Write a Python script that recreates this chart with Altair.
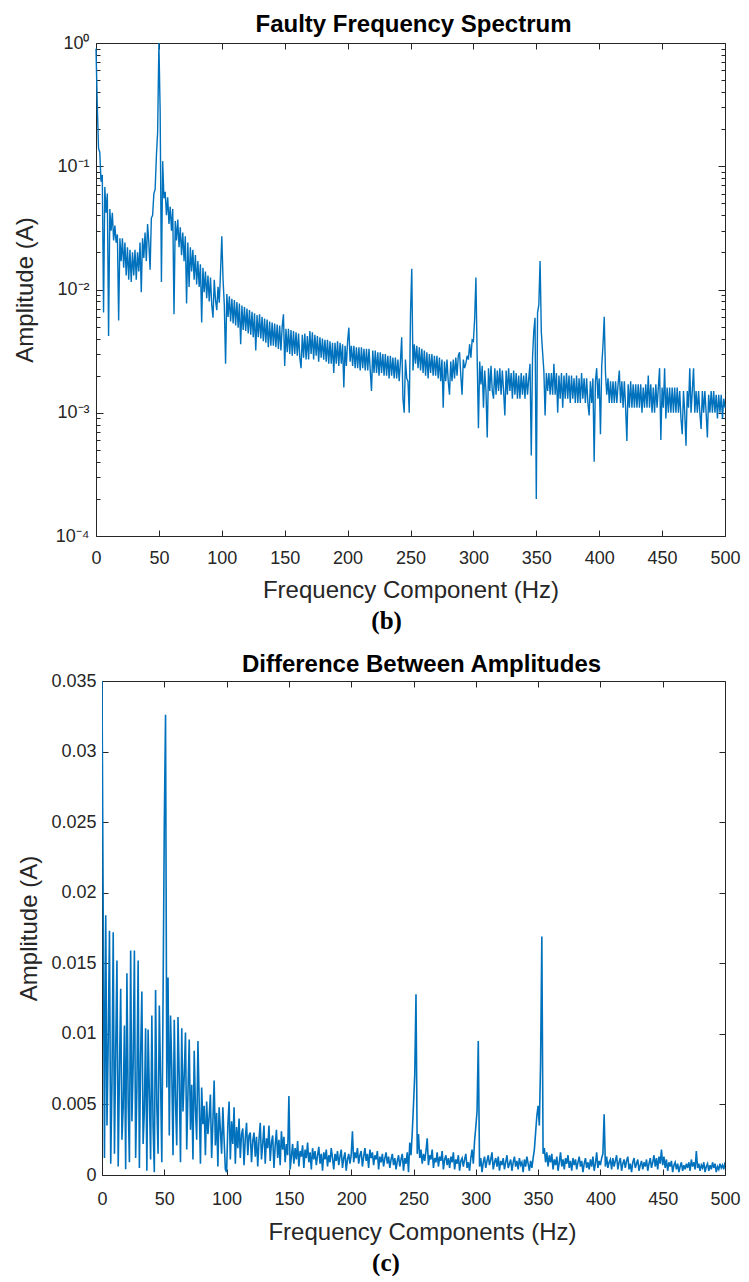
import altair as alt
import pandas as pd

# ---------------- data (1 Hz grid) ----------------
fault_amp = [
    0.9, 0.32, 0.14, 0.13, 0.075, 0.085, 0.0065, 0.068, 0.042, 0.06,
    0.0042, 0.045, 0.03, 0.042, 0.025, 0.033, 0.024, 0.028, 0.0056, 0.026,
    0.017, 0.026, 0.015, 0.024, 0.013, 0.022, 0.012, 0.021, 0.0115, 0.02,
    0.013, 0.021, 0.012, 0.02, 0.014, 0.024, 0.0095, 0.026, 0.018, 0.029,
    0.017, 0.034, 0.024, 0.0145, 0.038, 0.04, 0.06, 0.065, 0.12, 0.19,
    1.0, 0.28, 0.0115, 0.11, 0.055, 0.062, 0.04, 0.056, 0.034, 0.047,
    0.03, 0.045, 0.0063, 0.036, 0.025, 0.037, 0.022, 0.032, 0.019, 0.029,
    0.017, 0.027, 0.0077, 0.024, 0.0105, 0.022, 0.014, 0.021, 0.012, 0.019,
    0.011, 0.017, 0.0105, 0.016, 0.0054, 0.015, 0.0095, 0.014, 0.0085, 0.013,
    0.008, 0.0125, 0.0075, 0.0059, 0.012, 0.0082, 0.0068, 0.0105, 0.0078, 0.014,
    0.027, 0.012, 0.0075, 0.0025, 0.0092, 0.006, 0.0088, 0.0055, 0.0084, 0.0053,
    0.0082, 0.0051, 0.0079, 0.0049, 0.0077, 0.0036, 0.0074, 0.0047, 0.0072, 0.0046,
    0.007, 0.0044, 0.0068, 0.0043, 0.0066, 0.0041, 0.0064, 0.0032, 0.0062, 0.0041,
    0.0063, 0.004, 0.006, 0.0038, 0.0058, 0.0037, 0.0057, 0.0034, 0.0055, 0.0035,
    0.0054, 0.0035, 0.0053, 0.0034, 0.0052, 0.0033, 0.0051, 0.0032, 0.005, 0.0063,
    0.0024, 0.0048, 0.0031, 0.0048, 0.003, 0.0047, 0.0029, 0.0046, 0.003, 0.0045,
    0.0029, 0.0044, 0.0028, 0.0023, 0.0043, 0.0028, 0.0044, 0.0027, 0.0042, 0.0027,
    0.0046, 0.003, 0.0045, 0.0027, 0.0043, 0.0029, 0.0042, 0.0026, 0.0041, 0.0028,
    0.004, 0.0027, 0.0039, 0.0026, 0.0039, 0.0025, 0.0038, 0.0025, 0.0037, 0.0021,
    0.0037, 0.0025, 0.0038, 0.0024, 0.0037, 0.0025, 0.0036, 0.0016, 0.0035, 0.0024,
    0.0038, 0.0049, 0.0026, 0.0035, 0.0024, 0.0035, 0.0023, 0.0034, 0.0023, 0.0034,
    0.0022, 0.0034, 0.0023, 0.0033, 0.0022, 0.0033, 0.0022, 0.0033, 0.0022, 0.0015,
    0.0032, 0.0021, 0.0032, 0.0021, 0.0031, 0.002, 0.0031, 0.0021, 0.003, 0.002,
    0.003, 0.002, 0.0029, 0.0019, 0.0029, 0.002, 0.0028, 0.0019, 0.0028, 0.0019,
    0.0027, 0.0018, 0.0026, 0.0041, 0.0013, 0.001, 0.0027, 0.0019, 0.0018, 0.001,
    0.0063, 0.0147, 0.0022, 0.0036, 0.0025, 0.0035, 0.0023, 0.0034, 0.0022, 0.0033,
    0.0021, 0.0032, 0.002, 0.0031, 0.0019, 0.003, 0.0021, 0.003, 0.002, 0.0029,
    0.002, 0.0029, 0.0019, 0.0028, 0.0018, 0.0027, 0.0011, 0.0026, 0.0018, 0.0027,
    0.0018, 0.0014, 0.0026, 0.0018, 0.0027, 0.0019, 0.0028, 0.002, 0.0029, 0.0031,
    0.002, 0.0014, 0.0027, 0.0023, 0.0025, 0.0029, 0.0027, 0.0036, 0.0028, 0.0039,
    0.0038, 0.0058, 0.0125, 0.0028, 0.00075, 0.0026, 0.0017, 0.0024, 0.0011, 0.0022,
    0.0015, 0.00063, 0.0023, 0.0015, 0.0024, 0.0015, 0.0013, 0.0023, 0.0014, 0.0022,
    0.0015, 0.0023, 0.0014, 0.0022, 0.0015, 0.00095, 0.0022, 0.0014, 0.0023, 0.0015,
    0.0021, 0.0013, 0.0022, 0.0014, 0.0021, 0.0013, 0.002, 0.0013, 0.0021, 0.0014,
    0.002, 0.0013, 0.0021, 0.0014, 0.0019, 0.0025, 0.00045, 0.0028, 0.0046, 0.0059,
    0.0002, 0.0065, 0.0075, 0.017, 0.0045, 0.0031, 0.0022, 0.00095, 0.0021, 0.0015,
    0.0021, 0.0014, 0.0021, 0.0014, 0.0025, 0.0014, 0.0021, 0.001, 0.002, 0.0013,
    0.0021, 0.0011, 0.002, 0.0013, 0.0021, 0.0013, 0.002, 0.0012, 0.002, 0.0013,
    0.0019, 0.0012, 0.002, 0.0012, 0.0019, 0.0012, 0.0021, 0.0013, 0.0019, 0.0012,
    0.0019, 0.0012, 0.00095, 0.0018, 0.0012, 0.0019, 0.0004, 0.0018, 0.0023, 0.0013,
    0.0019, 0.00067, 0.0024, 0.0035, 0.006, 0.0021, 0.0014, 0.0019, 0.0012, 0.0018,
    0.0012, 0.0018, 0.0012, 0.0018, 0.0012, 0.0017, 0.0022, 0.0012, 0.0018, 0.0011,
    0.0018, 0.0011, 0.00059, 0.0017, 0.0011, 0.0018, 0.0011, 0.0017, 0.0011, 0.0017,
    0.0011, 0.0017, 0.0011, 0.0017, 0.001, 0.0016, 0.0011, 0.0017, 0.0011, 0.002,
    0.0011, 0.0017, 0.001, 0.0016, 0.001, 0.0017, 0.0011, 0.0016, 0.0023, 0.0006,
    0.0016, 0.0011, 0.0023, 0.0009, 0.0016, 0.001, 0.0016, 0.001, 0.0016, 0.001,
    0.0016, 0.001, 0.0016, 0.001, 0.0015, 0.0009, 0.00067, 0.0015, 0.001, 0.00054,
    0.0015, 0.0011, 0.0023, 0.001, 0.0015, 0.0023, 0.001, 0.0015, 0.001, 0.0015,
    0.001, 0.00074, 0.0015, 0.001, 0.0015, 0.001, 0.00063, 0.0014, 0.001, 0.0015,
    0.001, 0.0015, 0.001, 0.0014, 0.0009, 0.0014, 0.001, 0.0014, 0.0009, 0.0013,
    0.0011,
]

diff_amp = [
    0.035, 0.018, 0.0012, 0.0184, 0.0035, 0.0095, 0.0173, 0.0008, 0.0065, 0.0172,
    0.0015, 0.0088, 0.0152, 0.0006, 0.0072, 0.0132, 0.0025, 0.0048, 0.0106, 0.0004,
    0.0143, 0.0052, 0.0009, 0.0159, 0.0038, 0.0078, 0.0159, 0.0012, 0.0062, 0.0152,
    0.0005, 0.0085, 0.013, 0.0022, 0.0046, 0.0104, 0.0003, 0.0103, 0.0058, 0.0011,
    0.0113, 0.0034, 0.0002, 0.0131, 0.0049, 0.0015, 0.012, 0.0068, 0.0009, 0.0125,
    0.0249, 0.0326, 0.0062, 0.014, 0.0028, 0.0113, 0.0075, 0.0014, 0.011, 0.0052,
    0.0021, 0.0112, 0.0068, 0.0009, 0.0104, 0.0045, 0.0071, 0.0101, 0.0018, 0.0059,
    0.0096, 0.0032, 0.0064, 0.0011, 0.0088, 0.0047, 0.0025, 0.0095, 0.0052, 0.0008,
    0.0062, 0.0036, 0.0049, 0.0014, 0.0052, 0.0029, 0.0041, 0.0057, 0.0012, 0.0038,
    0.0067, 0.0021, 0.0044, 0.0006, 0.0048, 0.0032, 0.0015, 0.0048, 0.0025, 0.0004,
    0.0002, 0.0035, 0.0052, 0.0011, 0.0038, 0.0022, 0.0048, 0.0008, 0.0034, 0.0019,
    0.004, 0.0012, 0.0029, 0.0033, 0.0007, 0.0026, 0.0037, 0.0014, 0.0028, 0.003,
    0.0009, 0.0024, 0.003, 0.0013, 0.0027, 0.0006, 0.0025, 0.0037, 0.0011, 0.0022,
    0.0035, 0.0008, 0.0026, 0.0019, 0.0035, 0.001, 0.0023, 0.0028, 0.0005, 0.0021,
    0.0032, 0.0012, 0.0025, 0.0007, 0.0031, 0.0018, 0.0027, 0.0009, 0.0022, 0.0014,
    0.0056, 0.0004, 0.0013, 0.0022, 0.0008, 0.0019, 0.0011, 0.0024, 0.0006, 0.0017,
    0.0013, 0.0021, 0.0005, 0.0018, 0.0012, 0.0023, 0.0009, 0.0016, 0.0004, 0.0019,
    0.0011, 0.0017, 0.0007, 0.0014, 0.002, 0.0008, 0.0015, 0.0003, 0.0016, 0.0011,
    0.0018, 0.0006, 0.0014, 0.0009, 0.0019, 0.0012, 0.0004, 0.0015, 0.001, 0.0017,
    0.0007, 0.0013, 0.0018, 0.0005, 0.0012, 0.0016, 0.0003, 0.0011, 0.0015, 0.0008,
    0.0014, 0.0031, 0.0009, 0.0016, 0.0012, 0.0019, 0.0008, 0.0014, 0.0017, 0.0006,
    0.0013, 0.0019, 0.001, 0.0015, 0.0005, 0.0018, 0.0012, 0.0016, 0.0007, 0.0014,
    0.0011, 0.0017, 0.0004, 0.0013, 0.0009, 0.0015, 0.0006, 0.0012, 0.0016, 0.0008,
    0.0013, 0.0005, 0.0011, 0.0015, 0.0007, 0.0012, 0.0004, 0.001, 0.0014, 0.0006,
    0.0011, 0.0015, 0.0003, 0.0012, 0.0008, 0.0016, 0.0002, 0.0023, 0.0014, 0.003,
    0.005, 0.0071, 0.0128, 0.0015, 0.0029, 0.0012, 0.0018, 0.0008, 0.0015, 0.001,
    0.0017, 0.0026, 0.0007, 0.0014, 0.0011, 0.0018, 0.0005, 0.0012, 0.0009, 0.0016,
    0.0006, 0.0013, 0.001, 0.0017, 0.0004, 0.0011, 0.0014, 0.0007, 0.0012, 0.0005,
    0.0013, 0.0009, 0.0016, 0.0004, 0.0011, 0.0008, 0.0014, 0.0003, 0.001, 0.0012,
    0.0006, 0.0011, 0.0015, 0.0005, 0.0009, 0.0003, 0.0012, 0.0018, 0.0008, 0.0024,
    0.0034, 0.0045, 0.0095, 0.0006, 0.0012, 0.0002, 0.0009, 0.0013, 0.0005, 0.001,
    0.0014, 0.0007, 0.0011, 0.0016, 0.0004, 0.0009, 0.0012, 0.0006, 0.0013, 0.0003,
    0.001, 0.0007, 0.0012, 0.0004, 0.0009, 0.0014, 0.0005, 0.0008, 0.0011, 0.0003,
    0.0009, 0.0013, 0.0006, 0.001, 0.0004, 0.0012, 0.0007, 0.0009, 0.0002, 0.0011,
    0.0006, 0.0013, 0.0008, 0.0003, 0.001, 0.0005, 0.0012, 0.0018, 0.003, 0.0042,
    0.0049, 0.0035, 0.008, 0.0169, 0.0015, 0.0019, 0.0009, 0.0016, 0.0006, 0.0014,
    0.0009, 0.0015, 0.0004, 0.0011, 0.0007, 0.0013, 0.0003, 0.0009, 0.0016, 0.0006,
    0.0011, 0.0004, 0.0012, 0.0008, 0.0014, 0.0005, 0.001, 0.0003, 0.0012, 0.0007,
    0.0011, 0.0004, 0.0009, 0.0013, 0.0006, 0.001, 0.0002, 0.0008, 0.0012, 0.0005,
    0.0009, 0.0004, 0.0011, 0.0006, 0.0013, 0.0003, 0.0008, 0.0016, 0.0005, 0.001,
    0.0007, 0.0012, 0.0015, 0.0043, 0.0006, 0.0013, 0.0005, 0.0009, 0.0011, 0.0004,
    0.0012, 0.0006, 0.001, 0.0014, 0.0004, 0.0009, 0.0012, 0.0003, 0.0008, 0.0011,
    0.0005, 0.001, 0.0013, 0.0004, 0.0008, 0.0002, 0.0009, 0.0012, 0.0005, 0.0008,
    0.0011, 0.0003, 0.0007, 0.001, 0.0004, 0.0009, 0.0006, 0.0011, 0.0003, 0.0008,
    0.0012, 0.0005, 0.0009, 0.0014, 0.0006, 0.0012, 0.0004, 0.0013, 0.0008, 0.0018,
    0.0007, 0.0013, 0.0005, 0.0011, 0.0003, 0.0009, 0.0006, 0.001, 0.0002, 0.0007,
    0.0009, 0.0004, 0.0008, 0.0002, 0.0006, 0.0009, 0.0003, 0.0007, 0.0004, 0.0008,
    0.0005, 0.0009, 0.0003, 0.0011, 0.0006, 0.0009, 0.0004, 0.0017, 0.0005, 0.0008,
    0.0003, 0.0007, 0.0005, 0.0009, 0.0002, 0.0006, 0.0008, 0.0003, 0.0007, 0.0004,
    0.0009, 0.0005, 0.0008, 0.0002, 0.0006, 0.0004, 0.0008, 0.0005, 0.0007, 0.0004,
    0.0009,
]

freq_fault = list(range(len(fault_amp)))   # Hz, 1 Hz bins
freq_diff = list(range(len(diff_amp)))

x_ticks = [0, 50, 100, 150, 200, 250, 300, 350, 400, 450, 500]
log_major = [0.0001, 0.001, 0.01, 0.1, 1.0]
log_minor = [m * d for d in [0.0001, 0.001, 0.01, 0.1] for m in range(1, 10)] + [1.0]
lin_ticks = [0, 0.005, 0.01, 0.015, 0.02, 0.025, 0.03, 0.035]

BLUE = "#0072BD"
AX = "#262626"
FONT = "Liberation Sans"

df_fault = pd.DataFrame({"f": freq_fault, "a": fault_amp})
df_diff = pd.DataFrame({"f": freq_diff, "a": diff_amp})


def panel(df, W, H, shift, yscale, ylabel_kw, ytitle_pad, ylabel_pad,
          ytick_vals, ytick_size, title, title_kw, xtitle, x_label_pad, x_title_pad,
          x_title_kw, title_offset, line_w, clip):
    # plot frame spans x = -shift .. W inside the view group
    xs = alt.Scale(domain=[0, 500], nice=False, zero=False, range=[-shift, W])
    base = alt.Chart(df)
    line = base.mark_line(color=BLUE, strokeWidth=line_w, clip=clip).encode(
        x=alt.X("f:Q", scale=xs, axis=alt.Axis(
            orient="bottom", values=x_ticks, ticks=False, domain=True, grid=False,
            labelPadding=x_label_pad, labelFlush=False, labelOverlap=False,
            title=xtitle, titlePadding=x_title_pad, **x_title_kw)),
        y=alt.Y("a:Q", scale=yscale, axis=alt.Axis(
            orient="left", offset=shift, values=ytick_vals[0], ticks=False,
            domain=True, grid=False, labelPadding=ylabel_pad, labelFlush=False,
            labelOverlap=False, title="Amplitude (A)", titlePadding=ytitle_pad,
            **ylabel_kw)),
    )
    inward = base.mark_line(strokeOpacity=0).encode(
        x=alt.X("f:Q", scale=xs, axis=alt.Axis(
            orient="top", offset=-H, values=x_ticks, labels=False, domain=False,
            grid=False, tickSize=6, tickColor=AX, tickWidth=1, title=None)),
        y=alt.Y("a:Q", scale=yscale, axis=alt.Axis(
            orient="right", offset=-(W + shift), values=ytick_vals[1], labels=False,
            domain=False, grid=False, tickSize=ytick_size, tickColor=AX,
            tickWidth=1, title=None)),
    )
    opposite = base.mark_line(strokeOpacity=0).encode(
        x=alt.X("f:Q", scale=xs, axis=alt.Axis(
            orient="bottom", offset=-H, values=x_ticks, labels=False, domain=True,
            grid=False, tickSize=6, tickColor=AX, tickWidth=1, title=None)),
        y=alt.Y("a:Q", scale=yscale, axis=alt.Axis(
            orient="left", offset=-W, values=ytick_vals[1], labels=False,
            domain=True, grid=False, tickSize=ytick_size, tickColor=AX,
            tickWidth=1, title=None)),
    )
    return alt.layer(line, inward, opposite).resolve_axis(
        x="independent", y="independent"
    ).properties(
        width=W, height=H,
        title=alt.TitleParams(title, offset=title_offset, anchor="middle", **title_kw),
    )


log_label_expr = (
    "datum.value > 0.5 ? '10⁰' : datum.value > 0.05 ? '10⁻¹' : "
    "datum.value > 0.005 ? '10⁻²' : datum.value > 0.0005 ? '10⁻³' : '10⁻⁴'"
)

top = panel(
    df_fault, 623, 493, 6,
    alt.Scale(type="log", domain=[0.0001, 1], nice=False),
    {"labelExpr": log_label_expr}, 18, 7,
    (log_major, log_minor),
    {"condition": {"test": "abs(log(datum.value)/LN10 - round(log(datum.value)/LN10)) < 0.01",
                   "value": 7}, "value": 4},
    "Faulty Frequency Spectrum", {},
    "Frequency Component (Hz)", 13, 11, {},
    -3, 1.4, False,
)

bottom = panel(
    df_diff, 623, 494, 0,
    alt.Scale(domain=[0, 0.035], nice=False, zero=True),
    {"format": "~g"}, 9, 6,
    (lin_ticks, lin_ticks),
    6,
    "Difference Between Amplitudes", {"dx": 8},
    "Frequency Components (Hz)", 15, 12, {"titleX": 320},
    -5, 1.6, True,
)

cap_b = alt.vconcat(top, title=alt.TitleParams(
    "(b)", orient="bottom", font="Liberation Serif", fontSize=25, fontWeight="bold",
    color="black", anchor="middle", offset=7, dx=10))
cap_c = alt.vconcat(bottom, title=alt.TitleParams(
    "(c)", orient="bottom", font="Liberation Serif", fontSize=25, fontWeight="bold",
    color="black", anchor="middle", offset=7, dx=7))

chart = alt.vconcat(cap_b, cap_c, spacing=19).properties(
    padding={"left": 5, "top": 5, "right": 0, "bottom": 0}
).configure_view(
    stroke=None
).configure_axis(
    labelFont=FONT, titleFont=FONT, labelColor=AX, titleColor=AX,
    labelFontSize=18, titleFontSize=24, titleFontWeight="normal",
    domainColor=AX, domainWidth=1,
).configure_title(
    font=FONT, fontSize=24, fontWeight="bold", color="black",
).configure_concat(spacing=0)

chart.save("out.html", embed_options={"renderer": "svg", "actions": False})
